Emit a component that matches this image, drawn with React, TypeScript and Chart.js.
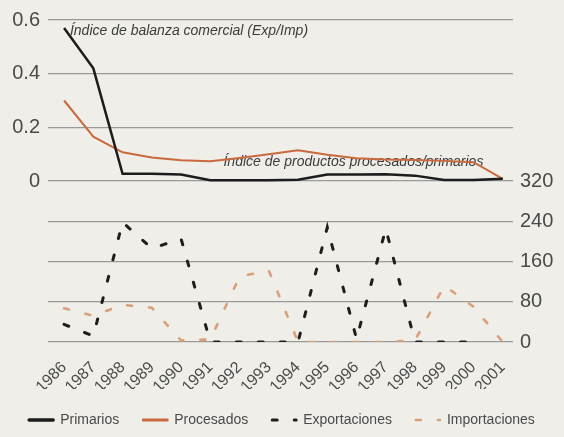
import React, { useEffect, useRef } from "react";
import { Chart, registerables } from "chart.js";

Chart.register(...registerables);

// ---- Data ----
const years = [1986, 1987, 1988, 1989, 1990, 1991, 1992, 1993, 1994, 1995, 1996, 1997, 1998, 1999, 2000, 2001];

// Top panel (left axis): indices
const primarios = [0.57, 0.42, 0.027, 0.027, 0.024, 0.003, 0.003, 0.003, 0.005, 0.024, 0.024, 0.025, 0.02, 0.004, 0.004, 0.008];
const procesados = [0.3, 0.165, 0.107, 0.088, 0.077, 0.074, 0.086, 0.1, 0.115, 0.098, 0.085, 0.08, 0.078, 0.075, 0.07, 0.008];

// Bottom panel (right axis)
const exportaciones: (number | null)[] = [35, 12, 238, 186, 205, 0, 0, 0, 0, 228, 6, 225, 0, 0, 0, null];
const importaciones = [67, 52, 74, 68, 3, 5, 130, 142, 0, 0, 0, 0, 3, 112, 70, 0];

const leftTicks = [0, 0.2, 0.4, 0.6];
const rightTicks = [0, 80, 160, 240, 320];

const notes = [
  { text: "Índice de balanza comercial (Exp/Imp)", x: 1986.2, y: 0.56 },
  { text: "Índice de productos procesados/primarios", x: 1991.45, y: 0.07 },
];

const FONT = '"Liberation Sans", Arial, sans-serif';
const GRID = "rgba(125,125,125,0.75)";
const TEXT = "#4a4a4a";

const toXY = (vals: (number | null)[]) => years.map((yr, i) => ({ x: yr, y: vals[i] }));

const notesPlugin = {
  id: "notes",
  beforeDatasetsDraw(chart: any) {
    const { ctx, scales } = chart;
    ctx.save();
    ctx.font = `italic 14px ${FONT}`;
    ctx.fillStyle = "#3c3c3c";
    ctx.textAlign = "left";
    ctx.textBaseline = "middle";
    for (const n of notes) {
      ctx.fillText(n.text, scales.x.getPixelForValue(n.x), scales.y.getPixelForValue(n.y));
    }
    ctx.restore();
  },
};

export default function App() {
  const ref = useRef<HTMLCanvasElement | null>(null);

  useEffect(() => {
    if (!ref.current) return;
    const defaultLabels = (Chart as any).defaults.plugins.legend.labels.generateLabels;
    const chart = new Chart(ref.current, {
      type: "line",
      data: {
        datasets: [
          {
            label: "Primarios",
            data: toXY(primarios),
            yAxisID: "y",
            borderColor: "#1c1c1c",
            backgroundColor: "#1c1c1c",
            borderWidth: 2.5,
            pointRadius: 0,
            tension: 0,
          },
          {
            label: "Procesados",
            data: toXY(procesados),
            yAxisID: "y",
            borderColor: "#c86a3e",
            backgroundColor: "#c86a3e",
            borderWidth: 2,
            pointRadius: 0,
            tension: 0,
          },
          {
            label: "Exportaciones",
            data: toXY(exportaciones),
            yAxisID: "y2",
            borderColor: "#1e1e1e",
            backgroundColor: "#1e1e1e",
            borderWidth: 3,
            borderDash: [5, 17],
            borderCapStyle: "round",
            pointRadius: 0,
            tension: 0,
            spanGaps: false,
          },
          {
            label: "Importaciones",
            data: toXY(importaciones),
            yAxisID: "y2",
            borderColor: "#d7a07a",
            backgroundColor: "#d7a07a",
            borderWidth: 2.6,
            borderDash: [5, 17],
            borderCapStyle: "round",
            pointRadius: 0,
            tension: 0,
          },
        ],
      },
      options: {
        animation: false,
        responsive: false,
        layout: { padding: { left: 0, right: 0, top: 19, bottom: 0 } },
        font: { family: FONT },
        scales: {
          x: {
            type: "linear",
            min: 1985.45,
            max: 2001.35,
            afterBuildTicks: (s: any) => {
              s.ticks = years.map((v) => ({ value: v }));
            },
            afterFit: (s: any) => {
              s.height = 47;
            },
            ticks: {
              autoSkip: false,
              maxRotation: 45,
              minRotation: 45,
              padding: 8,
              color: TEXT,
              font: { family: FONT, size: 16 },
              callback: (v: any) => String(v),
            },
            grid: { display: false },
            border: { display: false },
          },
          y: {
            position: "left",
            min: -0.6,
            max: 0.6,
            afterBuildTicks: (s: any) => {
              s.ticks = leftTicks.map((v) => ({ value: v }));
            },
            afterFit: (s: any) => {
              s.width = 48;
            },
            ticks: {
              padding: 8,
              color: TEXT,
              font: { family: FONT, size: 20 },
              callback: (v: any) => (v === 0 ? "0" : Number(v).toFixed(1)),
            },
            grid: { color: GRID, lineWidth: 1.3, drawTicks: false },
            border: { display: false },
          },
          y2: {
            position: "right",
            min: 0,
            max: 640,
            afterBuildTicks: (s: any) => {
              s.ticks = rightTicks.map((v) => ({ value: v }));
            },
            afterFit: (s: any) => {
              s.width = 51;
            },
            ticks: {
              padding: 7,
              color: TEXT,
              font: { family: FONT, size: 20 },
              callback: (v: any) => String(v),
            },
            grid: {
              color: (c: any) => (c.tick && c.tick.value === 320 ? "rgba(0,0,0,0)" : GRID),
              lineWidth: 1.3,
              drawTicks: false,
            },
            border: { display: false },
          },
        },
        plugins: {
          legend: {
            position: "bottom",
            labels: {
              usePointStyle: true,
              pointStyle: "line",
              pointStyleWidth: 24,
              boxWidth: 24,
              padding: 24,
              color: TEXT,
              font: { family: FONT, size: 14 },
              generateLabels: (c: any) =>
                defaultLabels(c).map((item: any, i: number) => {
                  const ds = c.data.datasets[i];
                  return {
                    ...item,
                    pointStyle: "line",
                    lineDash: ds.borderDash || [],
                    lineCap: "round",
                    lineWidth: ds.borderDash ? ds.borderWidth : ds.borderWidth + 1,
                    strokeStyle: ds.borderColor,
                    fillStyle: ds.borderColor,
                  };
                }),
            },
          },
          tooltip: { enabled: false },
        },
      },
      plugins: [notesPlugin],
    } as any);
    return () => chart.destroy();
  }, []);

  return (
    <div style={{ position: "fixed", left: 0, top: 0, width: 564, height: 437, background: "#efeee9" }}>
      <canvas ref={ref} width={564} height={437} style={{ display: "block" }} />
    </div>
  );
}
